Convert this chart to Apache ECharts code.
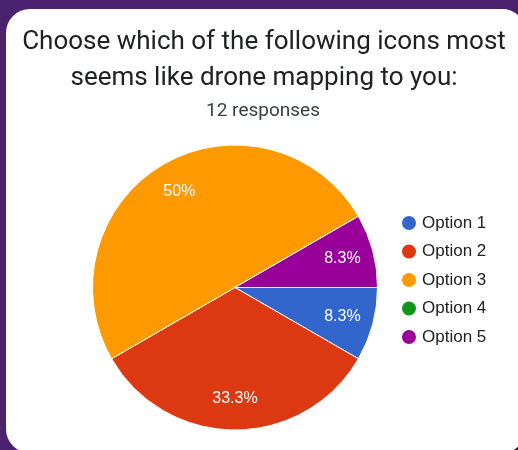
<!DOCTYPE html>
<html>
<head>
<meta charset="utf-8">
<script src="https://cdn.jsdelivr.net/npm/echarts@6/dist/echarts.min.js"></script>
<style>
  html, body { margin: 0; padding: 0; width: 518px; height: 450px; overflow: hidden; background: #4a2270; }
  #card { position: absolute; left: 6px; top: 9px; width: 520px; height: 444px; background: #ffffff; border-radius: 24px; }
  #corner { position: absolute; left: 496px; top: 426px; width: 40px; height: 40px; background: #1c1830; }
  #chart { position: absolute; left: 0; top: 0; width: 518px; height: 450px; }
</style>
</head>
<body>
<div id="corner"></div>
<div id="card"></div>
<div id="chart"></div>
<script>
// Survey question and answer counts
const titleText = 'Choose which of the following icons most\nseems like drone mapping to you:';
const subtitleText = '12 responses';
const categories = ['Option 1', 'Option 2', 'Option 3', 'Option 4', 'Option 5'];
const counts = [1, 4, 6, 0, 1];
const colors = ['#3366cc', '#dc3912', '#ff9900', '#109618', '#990099'];

const total = counts.reduce((a, b) => a + b, 0);
const pieData = categories.map((name, i) => ({ name: name, value: counts[i] }));

function pctLabel(p) {
  if (!p.value) return '';
  return (Math.round(p.value / total * 1000) / 10) + '%';
}

const chart = echarts.init(document.getElementById('chart'), null, { renderer: 'canvas' });
chart.setOption({
  animation: false,
  color: colors,
  title: [{
    text: titleText,
    left: 259,
    top: 19,
    textAlign: 'center',
    textStyle: { fontFamily: 'Roboto', fontSize: 26, fontWeight: 'normal', color: '#202124', lineHeight: 36 }
  }, {
    text: subtitleText,
    left: 258,
    top: 97,
    textAlign: 'center',
    textStyle: { fontFamily: 'Roboto', fontSize: 19, fontWeight: 'normal', color: '#3c4043' }
  }],
  legend: {
    orient: 'vertical',
    left: 395,
    top: 209,
    icon: 'circle',
    itemWidth: 16,
    itemHeight: 16,
    itemGap: 10.5,
    selectedMode: false,
    textStyle: { fontFamily: 'Arial', fontSize: 17, color: '#222222', lineHeight: 17, padding: [0, 0, 0, 0] },
    data: categories
  },
  series: [{
    type: 'pie',
    center: [235, 287.5],
    radius: [0, 142.5],
    startAngle: 0,
    clockwise: true,
    avoidLabelOverlap: false,
    label: { show: false },
    labelLine: { show: false },
    itemStyle: { borderColor: '#ffffff', borderWidth: 1 },
    emphasis: { disabled: true },
    data: pieData
  }, {
    // label ring: carries the percentage text at about three quarters of the radius
    type: 'pie',
    center: [235, 287.5],
    radius: [74, 142.5],
    startAngle: 0,
    clockwise: true,
    silent: true,
    avoidLabelOverlap: false,
    legendHoverLink: false,
    itemStyle: { color: 'rgba(0,0,0,0)', borderWidth: 0 },
    label: {
      show: true,
      position: 'inside',
      formatter: pctLabel,
      fontFamily: 'Arial',
      fontSize: 16,
      color: '#ffffff'
    },
    labelLine: { show: false },
    emphasis: { disabled: true },
    tooltip: { show: false },
    data: pieData
  }]
});
</script>
</body>
</html>
